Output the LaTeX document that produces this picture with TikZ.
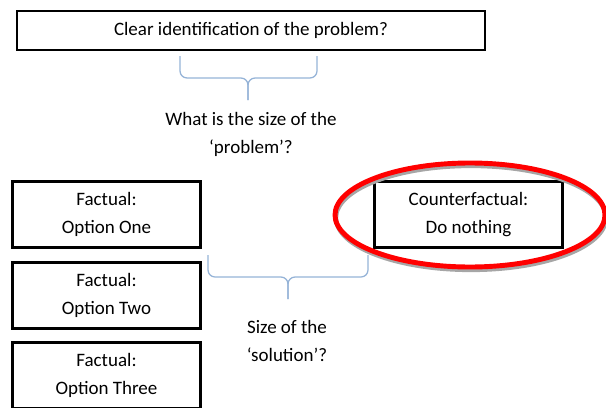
\documentclass[tikz,border=0pt]{standalone}
\usepackage{fontspec}
\setmainfont{Carlito}
\usepackage{xcolor}
\definecolor{bracecol}{HTML}{95B3D7}

\begin{document}
\begin{tikzpicture}[x=0.025cm,y=-0.025cm,
    box/.style={draw,line width=1.8pt,minimum width=4.7cm,minimum height=1.65cm,align=center,inner sep=0pt},
    brace/.style={bracecol,line width=0.9pt,rounded corners=5pt},
    txt/.style={align=center}]
    \useasboundingbox (0,0) rectangle (606,408);
    \fontsize{13.5}{20}\selectfont
    % problem
    \node[draw,line width=1.8pt,minimum width=11.7cm,minimum height=0.97cm,inner sep=0pt] (problem) at (251,30.5) {Clear identification of the problem?};
    \draw[brace] (180,56) -- (180,78) -- (248,78) -- (248,100);
    \draw[brace] (317,56) -- (317,78) -- (248,78) -- (248,100);
    \node[txt] (size) at (251,134) {What is the size of the\\‘problem’?};
    % options
    \node[box] (one) at (106.5,214.5) {Factual:\\Option One};
    \node[box] (two) at (106.5,295.5) {Factual:\\Option Two};
    \node[box] (three) at (106.5,375.5) {Factual:\\Option Three};
    \node[box] (nothing) at (468.5,214.5) {Counterfactual:\\Do nothing};
    % circled
    \draw[gray!70,line width=3pt] (471,218) ellipse (135 and 52);
    \draw[red,line width=3.5pt] (470,215) ellipse (135 and 52);
    \draw[brace] (208,255) -- (208,277) -- (288,277) -- (288,299);
    \draw[brace] (368,255) -- (368,277) -- (288,277) -- (288,299);
    \node[txt] (solution) at (287,341) {Size of the\\‘solution’?};
\end{tikzpicture}
\end{document}
